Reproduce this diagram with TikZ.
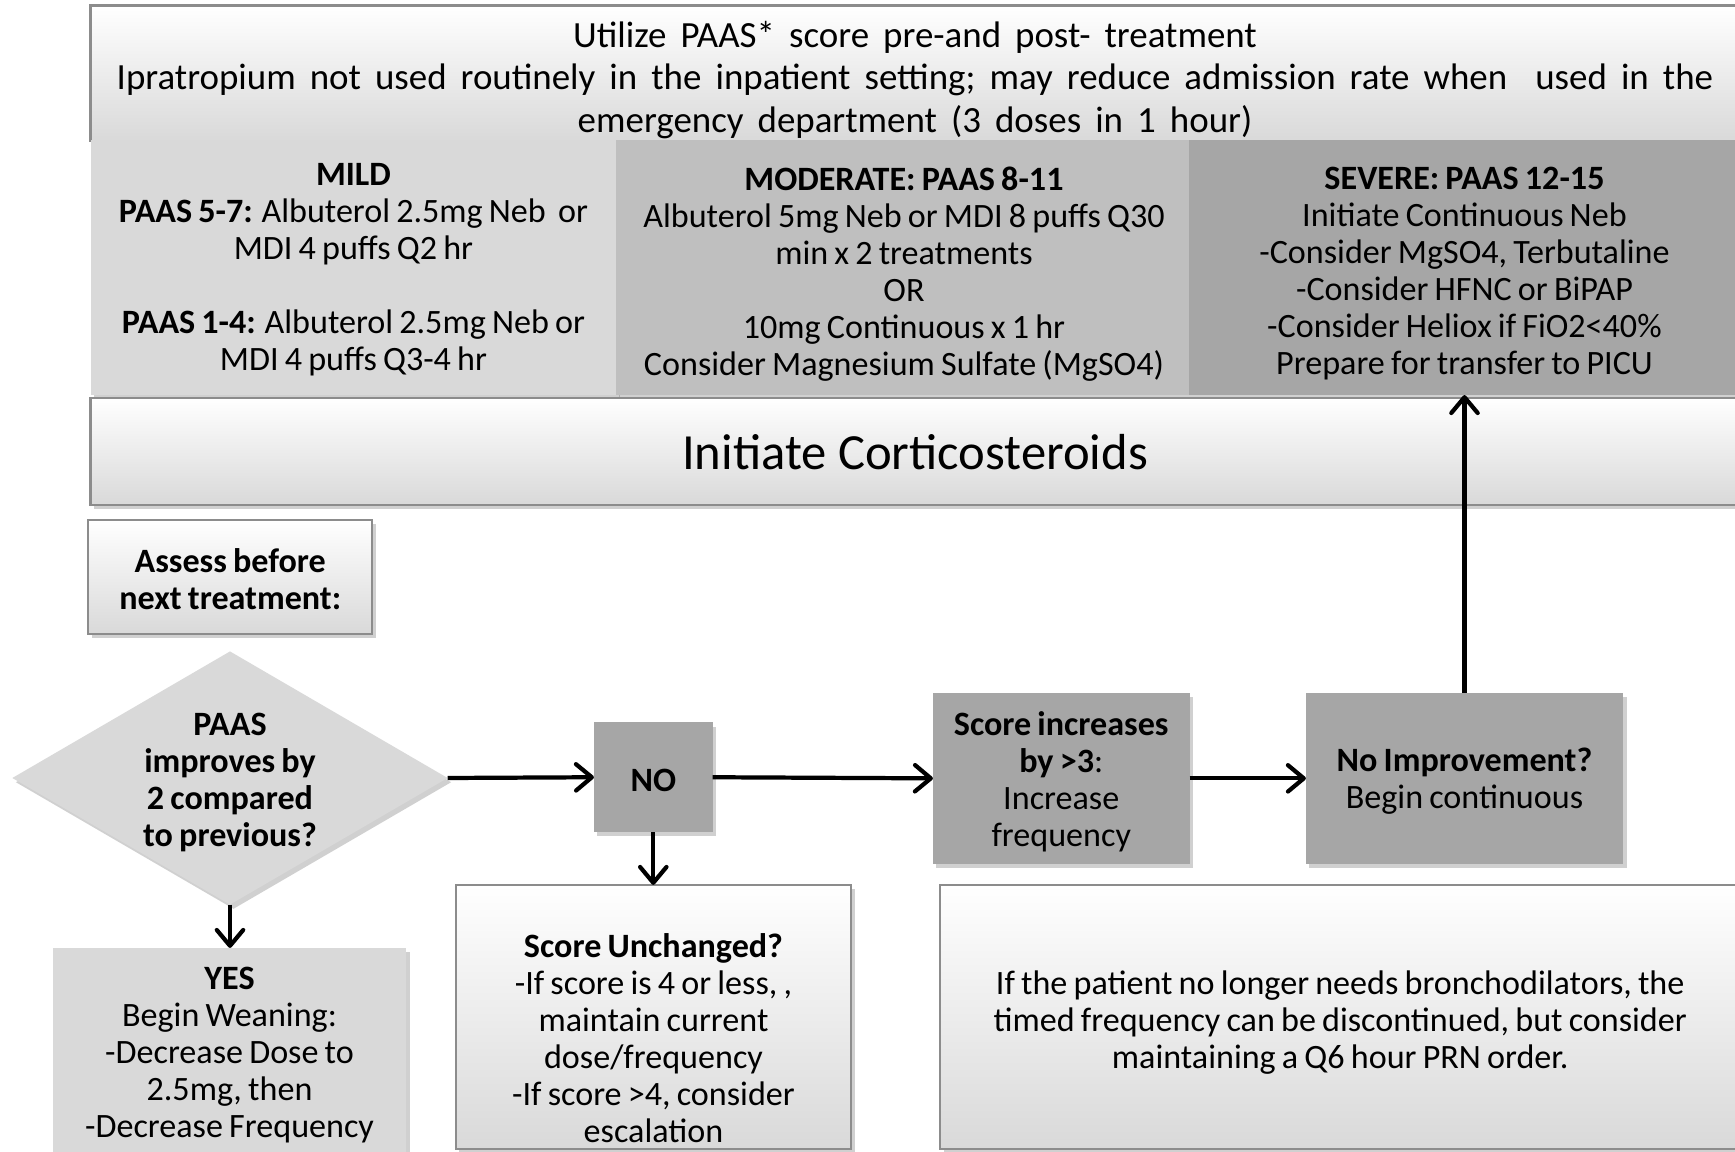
\documentclass[tikz,border=0pt]{standalone}
\usepackage{fontspec}
\setmainfont{Carlito}[WordSpace=0.8]
\newfontfamily\bigfont{Carlito}
\newcommand\topspacing{\spaceskip=4.0pt plus 1pt\relax}
\usetikzlibrary{shapes.geometric,arrows.meta,shadows}
\definecolor{gA}{HTML}{D9D9D9}
\definecolor{gB}{HTML}{BFBFBF}
\definecolor{gC}{HTML}{A6A6A6}
\definecolor{bord}{HTML}{8C8C8C}
\begin{document}
\begin{tikzpicture}[x=0.01cm,y=-0.01cm,
  shad/.style={drop shadow={shadow xshift=1.0pt,shadow yshift=-1.2pt,opacity=0.3,fill=black!60}},
  base/.style={rectangle,inner sep=0pt,outer sep=0pt},
  gradbox/.style={base,draw=bord,line width=0.6pt,top color=white,bottom color=gA,shad},
  flatbox/.style={base,shad},
  txt/.style={align=center,font=\fontsize{9.7}{10.5}\selectfont,inner sep=0pt},
  arr/.style={line width=1.2pt,-{Straight Barb[length=4.5pt,width=7.5pt,line width=1.2pt,round]}}
]
\useasboundingbox (0,0) rectangle (1735,1152);
\fill[white] (0,0) rectangle (1735,1152);

% top info box
\node[gradbox,minimum width=16.48cm,minimum height=1.355cm] (top) at (915,73.25) {};
\node[txt,font=\bigfont\fontsize{10.5}{12.1}\selectfont\topspacing] (toptxt) at (915,79.9)
 {Utilize PAAS* score pre-and post- treatment\\
  Ipratropium not used routinely in the inpatient setting; may reduce admission rate when\ \ used in the\\
  emergency department (3 doses in 1 hour)};

% severity boxes
\node[flatbox,fill=gA,minimum width=5.25cm,minimum height=2.545cm] (mild) at (353.5,267.75) {};
\node[txt] (mildtxt) at (353.5,270)
 {\textbf{MILD}\\
  \textbf{PAAS 5-7:} Albuterol 2.5mg Neb\ \ or\\
  MDI 4 puffs Q2 hr\\[10.5pt]
  \textbf{PAAS 1-4:} Albuterol 2.5mg Neb or\\
  MDI 4 puffs Q3-4 hr};
\node[flatbox,fill=gB,minimum width=5.735cm,minimum height=2.545cm] (mod) at (902.75,267.75) {};
\node[txt] (modtxt) at (904,273.9)
 {\textbf{MODERATE: PAAS 8-11}\\
  Albuterol 5mg Neb or MDI 8 puffs Q30\\
  min x 2 treatments\\
  OR\\
  10mg Continuous x 1 hr\\
  Consider Magnesium Sulfate (MgSO4)};
\node[flatbox,fill=gC,minimum width=5.505cm,minimum height=2.545cm] (sev) at (1464.75,267.75) {};
\node[txt] (sevtxt) at (1464.5,273.3)
 {\textbf{SEVERE: PAAS 12-15}\\
  Initiate Continuous Neb\\
  -Consider MgSO4, Terbutaline\\
  -Consider HFNC or BiPAP\\
  -Consider Heliox if FiO2<40\%\\
  Prepare for transfer to PICU};

% corticosteroids
\node[gradbox,minimum width=16.48cm,minimum height=1.066cm] (cort) at (915,451.3) {};
\node[txt,font=\bigfont\fontsize{14.4}{16}\selectfont] (corttxt) at (915,452.5)
 {Initiate Corticosteroids};

% assess
\node[gradbox,minimum width=2.835cm,minimum height=1.14cm] (assess) at (230.25,577) {};
\node[txt] (assesstxt) at (230.25,578.7)
 {\textbf{Assess before}\\ \textbf{next treatment:}};

% decision diamond
\node[diamond,fill=gA,shad,inner sep=0pt,outer sep=0pt,minimum width=4.35cm,minimum height=2.53cm] (dia) at (230,778) {};
\node[txt] (diatxt) at (230,782.3)
 {\textbf{PAAS}\\ \textbf{improves by}\\ \textbf{2 compared}\\ \textbf{to previous?}};

% NO
\node[flatbox,fill=gC,minimum width=1.186cm,minimum height=1.095cm] (no) at (653.3,777.25) {};
\node[txt] (notxt) at (653.3,780.6) {\textbf{NO}};

% score increases
\node[flatbox,fill=gC,minimum width=2.565cm,minimum height=1.713cm] (inc) at (1061.25,778.35) {};
\node[txt] (inctxt) at (1061.25,781.6)
 {\textbf{Score increases}\\ \textbf{by >3}:\\ Increase\\ frequency};

% no improvement
\node[flatbox,fill=gC,minimum width=3.17cm,minimum height=1.713cm] (noimp) at (1464.5,778.35) {};
\node[txt] (noimptxt) at (1464.5,781.6)
 {\textbf{No Improvement?}\\ Begin continuous};

% score unchanged
\node[gradbox,minimum width=3.95cm,minimum height=2.64cm] (unch) at (653.5,1017) {};
\node[txt] (unchtxt) at (653.5,1038)
 {\textbf{Score Unchanged?}\\
  -If score is 4 or less, ,\\
  maintain current\\
  dose/frequency\\
  -If score >4, consider\\
  escalation};

% bottom right note
\node[gradbox,minimum width=7.995cm,minimum height=2.64cm] (note) at (1340.25,1017) {};
\node[txt] (notetxt) at (1340.25,1022.5)
 {If the patient no longer needs bronchodilators, the\\
  timed frequency can be discontinued, but consider\\
  maintaining a Q6 hour PRN order.};

% YES
\node[flatbox,fill=gA,minimum width=3.53cm,minimum height=2.62cm] (yes) at (229.5,1079) {};
\node[txt] (yestxt) at (229.5,1055)
 {\textbf{YES}\\
  Begin Weaning:\\
  -Decrease Dose to\\
  2.5mg, then\\
  -Decrease Frequency};

% connectors
\draw[arr] (dia.east) -- (no.west);
\draw[arr] (no.east) -- (inc.west);
\draw[arr] (inc.east) -- (noimp.west);
\draw[arr] (noimp.north) -- (noimp.north |- sev.south);
\draw[arr] (no.south) -- (no.south |- unch.north);
\draw[arr] (dia.south) -- (dia.south |- yes.north);
\end{tikzpicture}
\end{document}
